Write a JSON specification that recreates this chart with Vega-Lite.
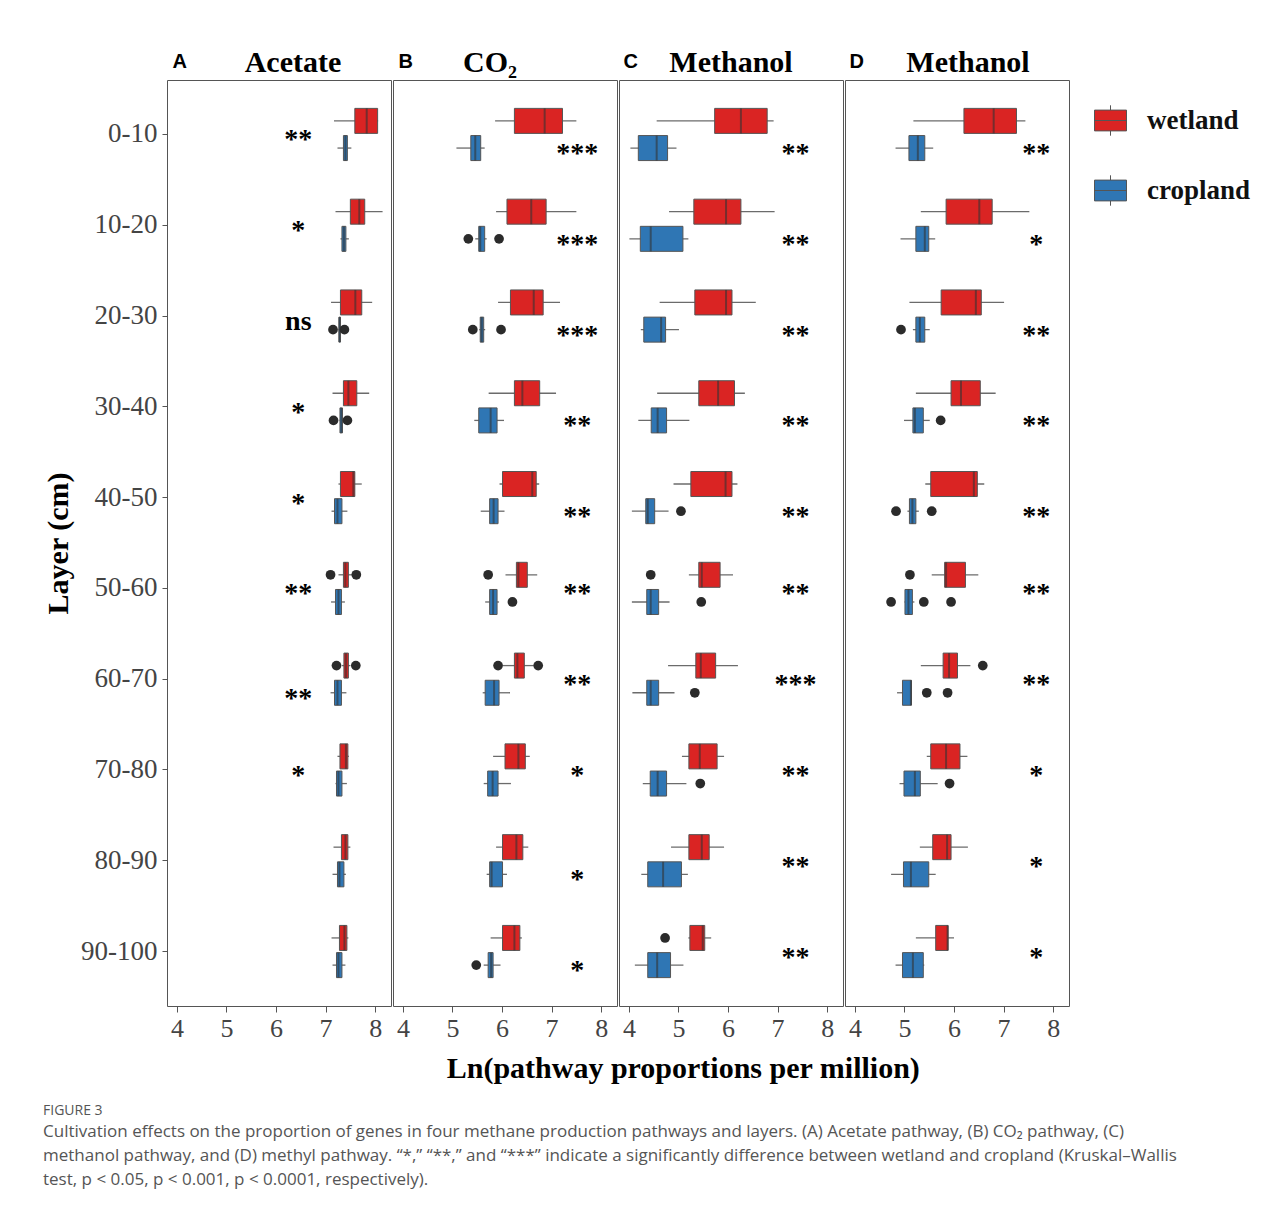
{
"$schema": "https://vega.github.io/schema/vega-lite/v6.json",
"padding": {"left": 43, "top": 47, "right": 10, "bottom": 10},
"datasets": {
"box": [
{"panel":"A","layer":"0-10","group":"wetland","lo":7.17,"q1":7.59,"med":7.83,"q3":8.05,"hi":8.06},
{"panel":"A","layer":"0-10","group":"cropland","lo":7.24,"q1":7.36,"med":7.40,"q3":7.44,"hi":7.52},
{"panel":"A","layer":"10-20","group":"wetland","lo":7.20,"q1":7.50,"med":7.68,"q3":7.79,"hi":8.15},
{"panel":"A","layer":"10-20","group":"cropland","lo":7.30,"q1":7.33,"med":7.37,"q3":7.41,"hi":7.47},
{"panel":"A","layer":"20-30","group":"wetland","lo":7.11,"q1":7.30,"med":7.60,"q3":7.73,"hi":7.94},
{"panel":"A","layer":"20-30","group":"cropland","lo":7.26,"q1":7.27,"med":7.28,"q3":7.30,"hi":7.31},
{"panel":"A","layer":"30-40","group":"wetland","lo":7.14,"q1":7.36,"med":7.46,"q3":7.63,"hi":7.88},
{"panel":"A","layer":"30-40","group":"cropland","lo":7.28,"q1":7.29,"med":7.32,"q3":7.34,"hi":7.35},
{"panel":"A","layer":"40-50","group":"wetland","lo":7.26,"q1":7.30,"med":7.56,"q3":7.59,"hi":7.73},
{"panel":"A","layer":"40-50","group":"cropland","lo":7.12,"q1":7.18,"med":7.24,"q3":7.33,"hi":7.44},
{"panel":"A","layer":"50-60","group":"wetland","lo":7.26,"q1":7.36,"med":7.40,"q3":7.46,"hi":7.56},
{"panel":"A","layer":"50-60","group":"cropland","lo":7.11,"q1":7.20,"med":7.26,"q3":7.32,"hi":7.39},
{"panel":"A","layer":"60-70","group":"wetland","lo":7.33,"q1":7.37,"med":7.41,"q3":7.46,"hi":7.50},
{"panel":"A","layer":"60-70","group":"cropland","lo":7.10,"q1":7.18,"med":7.24,"q3":7.32,"hi":7.42},
{"panel":"A","layer":"70-80","group":"wetland","lo":7.24,"q1":7.29,"med":7.41,"q3":7.45,"hi":7.47},
{"panel":"A","layer":"70-80","group":"cropland","lo":7.20,"q1":7.22,"med":7.26,"q3":7.33,"hi":7.43},
{"panel":"A","layer":"80-90","group":"wetland","lo":7.16,"q1":7.32,"med":7.40,"q3":7.45,"hi":7.50},
{"panel":"A","layer":"80-90","group":"cropland","lo":7.14,"q1":7.24,"med":7.28,"q3":7.37,"hi":7.41},
{"panel":"A","layer":"90-100","group":"wetland","lo":7.12,"q1":7.28,"med":7.38,"q3":7.43,"hi":7.46},
{"panel":"A","layer":"90-100","group":"cropland","lo":7.14,"q1":7.22,"med":7.26,"q3":7.33,"hi":7.40},
{"panel":"B","layer":"0-10","group":"wetland","lo":5.86,"q1":6.25,"med":6.86,"q3":7.22,"hi":7.50},
{"panel":"B","layer":"0-10","group":"cropland","lo":5.08,"q1":5.37,"med":5.46,"q3":5.57,"hi":5.65},
{"panel":"B","layer":"10-20","group":"wetland","lo":5.88,"q1":6.10,"med":6.59,"q3":6.89,"hi":7.50},
{"panel":"B","layer":"10-20","group":"cropland","lo":5.46,"q1":5.53,"med":5.56,"q3":5.65,"hi":5.69},
{"panel":"B","layer":"20-30","group":"wetland","lo":5.92,"q1":6.17,"med":6.64,"q3":6.83,"hi":7.17},
{"panel":"B","layer":"20-30","group":"cropland","lo":5.54,"q1":5.56,"med":5.59,"q3":5.63,"hi":5.66},
{"panel":"B","layer":"30-40","group":"wetland","lo":5.73,"q1":6.25,"med":6.41,"q3":6.76,"hi":7.09},
{"panel":"B","layer":"30-40","group":"cropland","lo":5.44,"q1":5.53,"med":5.77,"q3":5.90,"hi":6.04},
{"panel":"B","layer":"40-50","group":"wetland","lo":5.95,"q1":6.01,"med":6.61,"q3":6.69,"hi":6.75},
{"panel":"B","layer":"40-50","group":"cropland","lo":5.57,"q1":5.75,"med":5.83,"q3":5.92,"hi":6.05},
{"panel":"B","layer":"50-60","group":"wetland","lo":6.07,"q1":6.29,"med":6.33,"q3":6.51,"hi":6.71},
{"panel":"B","layer":"50-60","group":"cropland","lo":5.66,"q1":5.75,"med":5.82,"q3":5.90,"hi":5.94},
{"panel":"B","layer":"60-70","group":"wetland","lo":6.02,"q1":6.25,"med":6.31,"q3":6.45,"hi":6.64},
{"panel":"B","layer":"60-70","group":"cropland","lo":5.61,"q1":5.66,"med":5.84,"q3":5.94,"hi":6.16},
{"panel":"B","layer":"70-80","group":"wetland","lo":5.82,"q1":6.06,"med":6.33,"q3":6.47,"hi":6.56},
{"panel":"B","layer":"70-80","group":"cropland","lo":5.63,"q1":5.71,"med":5.81,"q3":5.92,"hi":6.18},
{"panel":"B","layer":"80-90","group":"wetland","lo":5.88,"q1":6.01,"med":6.29,"q3":6.42,"hi":6.53},
{"panel":"B","layer":"80-90","group":"cropland","lo":5.69,"q1":5.75,"med":5.79,"q3":6.01,"hi":6.10},
{"panel":"B","layer":"90-100","group":"wetland","lo":5.77,"q1":6.01,"med":6.25,"q3":6.36,"hi":6.40},
{"panel":"B","layer":"90-100","group":"cropland","lo":5.63,"q1":5.72,"med":5.78,"q3":5.82,"hi":5.97},
{"panel":"C","layer":"0-10","group":"wetland","lo":4.56,"q1":5.73,"med":6.26,"q3":6.79,"hi":6.92},
{"panel":"C","layer":"0-10","group":"cropland","lo":4.03,"q1":4.19,"med":4.56,"q3":4.78,"hi":4.96},
{"panel":"C","layer":"10-20","group":"wetland","lo":4.81,"q1":5.31,"med":5.96,"q3":6.26,"hi":6.94},
{"panel":"C","layer":"10-20","group":"cropland","lo":4.01,"q1":4.23,"med":4.44,"q3":5.09,"hi":5.20},
{"panel":"C","layer":"20-30","group":"wetland","lo":4.62,"q1":5.33,"med":5.96,"q3":6.08,"hi":6.56},
{"panel":"C","layer":"20-30","group":"cropland","lo":4.24,"q1":4.30,"med":4.65,"q3":4.74,"hi":5.01},
{"panel":"C","layer":"30-40","group":"wetland","lo":4.57,"q1":5.41,"med":5.80,"q3":6.13,"hi":6.34},
{"panel":"C","layer":"30-40","group":"cropland","lo":4.19,"q1":4.45,"med":4.58,"q3":4.76,"hi":5.22},
{"panel":"C","layer":"40-50","group":"wetland","lo":4.90,"q1":5.25,"med":5.95,"q3":6.08,"hi":6.19},
{"panel":"C","layer":"40-50","group":"cropland","lo":4.06,"q1":4.34,"med":4.38,"q3":4.52,"hi":4.80},
{"panel":"C","layer":"50-60","group":"wetland","lo":5.21,"q1":5.41,"med":5.47,"q3":5.84,"hi":6.10},
{"panel":"C","layer":"50-60","group":"cropland","lo":4.06,"q1":4.36,"med":4.44,"q3":4.60,"hi":4.82},
{"panel":"C","layer":"60-70","group":"wetland","lo":4.79,"q1":5.35,"med":5.45,"q3":5.75,"hi":6.20},
{"panel":"C","layer":"60-70","group":"cropland","lo":4.07,"q1":4.36,"med":4.44,"q3":4.60,"hi":4.92},
{"panel":"C","layer":"70-80","group":"wetland","lo":5.07,"q1":5.21,"med":5.43,"q3":5.78,"hi":5.92},
{"panel":"C","layer":"70-80","group":"cropland","lo":4.28,"q1":4.43,"med":4.58,"q3":4.76,"hi":5.16},
{"panel":"C","layer":"80-90","group":"wetland","lo":4.85,"q1":5.21,"med":5.47,"q3":5.62,"hi":5.92},
{"panel":"C","layer":"80-90","group":"cropland","lo":4.25,"q1":4.38,"med":4.69,"q3":5.06,"hi":5.19},
{"panel":"C","layer":"90-100","group":"wetland","lo":5.20,"q1":5.23,"med":5.49,"q3":5.53,"hi":5.66},
{"panel":"C","layer":"90-100","group":"cropland","lo":4.12,"q1":4.38,"med":4.57,"q3":4.84,"hi":5.10},
{"panel":"D","layer":"0-10","group":"wetland","lo":5.18,"q1":6.20,"med":6.80,"q3":7.26,"hi":7.44},
{"panel":"D","layer":"0-10","group":"cropland","lo":4.82,"q1":5.09,"med":5.27,"q3":5.41,"hi":5.58},
{"panel":"D","layer":"10-20","group":"wetland","lo":5.33,"q1":5.84,"med":6.51,"q3":6.77,"hi":7.52},
{"panel":"D","layer":"10-20","group":"cropland","lo":4.92,"q1":5.23,"med":5.41,"q3":5.49,"hi":5.62},
{"panel":"D","layer":"20-30","group":"wetland","lo":5.10,"q1":5.74,"med":6.44,"q3":6.55,"hi":7.01},
{"panel":"D","layer":"20-30","group":"cropland","lo":5.17,"q1":5.23,"med":5.31,"q3":5.41,"hi":5.51},
{"panel":"D","layer":"30-40","group":"wetland","lo":5.23,"q1":5.94,"med":6.14,"q3":6.53,"hi":6.84},
{"panel":"D","layer":"30-40","group":"cropland","lo":4.99,"q1":5.17,"med":5.21,"q3":5.38,"hi":5.51},
{"panel":"D","layer":"40-50","group":"wetland","lo":5.42,"q1":5.53,"med":6.40,"q3":6.47,"hi":6.61},
{"panel":"D","layer":"40-50","group":"cropland","lo":5.06,"q1":5.10,"med":5.16,"q3":5.23,"hi":5.29},
{"panel":"D","layer":"50-60","group":"wetland","lo":5.55,"q1":5.81,"med":5.84,"q3":6.23,"hi":6.49},
{"panel":"D","layer":"50-60","group":"cropland","lo":5.00,"q1":5.01,"med":5.08,"q3":5.16,"hi":5.20},
{"panel":"D","layer":"60-70","group":"wetland","lo":5.33,"q1":5.78,"med":5.90,"q3":6.07,"hi":6.33},
{"panel":"D","layer":"60-70","group":"cropland","lo":4.85,"q1":4.96,"med":5.13,"q3":5.14,"hi":5.14},
{"panel":"D","layer":"70-80","group":"wetland","lo":5.45,"q1":5.53,"med":5.84,"q3":6.12,"hi":6.27},
{"panel":"D","layer":"70-80","group":"cropland","lo":4.90,"q1":4.99,"med":5.21,"q3":5.32,"hi":5.67},
{"panel":"D","layer":"80-90","group":"wetland","lo":5.31,"q1":5.57,"med":5.86,"q3":5.94,"hi":6.28},
{"panel":"D","layer":"80-90","group":"cropland","lo":4.73,"q1":4.98,"med":5.13,"q3":5.49,"hi":5.63},
{"panel":"D","layer":"90-100","group":"wetland","lo":5.23,"q1":5.63,"med":5.87,"q3":5.88,"hi":6.00},
{"panel":"D","layer":"90-100","group":"cropland","lo":4.82,"q1":4.96,"med":5.17,"q3":5.38,"hi":5.40}
],
"out": [
{"panel":"A","layer":"20-30","group":"cropland","v":7.15},{"panel":"A","layer":"20-30","group":"cropland","v":7.38},
{"panel":"A","layer":"30-40","group":"cropland","v":7.16},{"panel":"A","layer":"30-40","group":"cropland","v":7.44},
{"panel":"A","layer":"50-60","group":"wetland","v":7.10},{"panel":"A","layer":"50-60","group":"wetland","v":7.62},
{"panel":"A","layer":"60-70","group":"wetland","v":7.22},{"panel":"A","layer":"60-70","group":"wetland","v":7.61},
{"panel":"B","layer":"10-20","group":"cropland","v":5.32},{"panel":"B","layer":"10-20","group":"cropland","v":5.94},
{"panel":"B","layer":"20-30","group":"cropland","v":5.41},{"panel":"B","layer":"20-30","group":"cropland","v":5.98},
{"panel":"B","layer":"50-60","group":"wetland","v":5.72},{"panel":"B","layer":"50-60","group":"cropland","v":6.21},
{"panel":"B","layer":"60-70","group":"wetland","v":5.92},{"panel":"B","layer":"60-70","group":"wetland","v":6.73},
{"panel":"B","layer":"90-100","group":"cropland","v":5.48},
{"panel":"C","layer":"40-50","group":"cropland","v":5.05},
{"panel":"C","layer":"50-60","group":"wetland","v":4.44},{"panel":"C","layer":"50-60","group":"cropland","v":5.46},
{"panel":"C","layer":"60-70","group":"cropland","v":5.33},
{"panel":"C","layer":"70-80","group":"cropland","v":5.44},
{"panel":"C","layer":"90-100","group":"wetland","v":4.73},
{"panel":"D","layer":"20-30","group":"cropland","v":4.93},
{"panel":"D","layer":"30-40","group":"cropland","v":5.73},
{"panel":"D","layer":"40-50","group":"cropland","v":4.83},{"panel":"D","layer":"40-50","group":"cropland","v":5.55},
{"panel":"D","layer":"50-60","group":"wetland","v":5.11},
{"panel":"D","layer":"50-60","group":"cropland","v":4.73},{"panel":"D","layer":"50-60","group":"cropland","v":5.39},{"panel":"D","layer":"50-60","group":"cropland","v":5.94},
{"panel":"D","layer":"60-70","group":"wetland","v":6.58},
{"panel":"D","layer":"60-70","group":"cropland","v":5.45},{"panel":"D","layer":"60-70","group":"cropland","v":5.87},
{"panel":"D","layer":"70-80","group":"cropland","v":5.91}
],
"sig": [
{"panel":"A","layer":"0-10","group":"middle","x":6.45,"label":"**"},
{"panel":"A","layer":"10-20","group":"middle","x":6.45,"label":"*"},
{"panel":"A","layer":"20-30","group":"middle","x":6.45,"label":"ns"},
{"panel":"A","layer":"30-40","group":"middle","x":6.45,"label":"*"},
{"panel":"A","layer":"40-50","group":"middle","x":6.45,"label":"*"},
{"panel":"A","layer":"50-60","group":"middle","x":6.45,"label":"**"},
{"panel":"A","layer":"60-70","group":"cropland","x":6.45,"label":"**"},
{"panel":"A","layer":"70-80","group":"middle","x":6.45,"label":"*"},
{"panel":"B","layer":"0-10","group":"cropland","x":7.52,"label":"***"},
{"panel":"B","layer":"10-20","group":"cropland","x":7.52,"label":"***"},
{"panel":"B","layer":"20-30","group":"cropland","x":7.52,"label":"***"},
{"panel":"B","layer":"30-40","group":"cropland","x":7.52,"label":"**"},
{"panel":"B","layer":"40-50","group":"cropland","x":7.52,"label":"**"},
{"panel":"B","layer":"50-60","group":"middle","x":7.52,"label":"**"},
{"panel":"B","layer":"60-70","group":"middle","x":7.52,"label":"**"},
{"panel":"B","layer":"70-80","group":"middle","x":7.52,"label":"*"},
{"panel":"B","layer":"80-90","group":"cropland","x":7.52,"label":"*"},
{"panel":"B","layer":"90-100","group":"cropland","x":7.52,"label":"*"},
{"panel":"C","layer":"0-10","group":"cropland","x":7.36,"label":"**"},
{"panel":"C","layer":"10-20","group":"cropland","x":7.36,"label":"**"},
{"panel":"C","layer":"20-30","group":"cropland","x":7.36,"label":"**"},
{"panel":"C","layer":"30-40","group":"cropland","x":7.36,"label":"**"},
{"panel":"C","layer":"40-50","group":"cropland","x":7.36,"label":"**"},
{"panel":"C","layer":"50-60","group":"middle","x":7.36,"label":"**"},
{"panel":"C","layer":"60-70","group":"middle","x":7.36,"label":"***"},
{"panel":"C","layer":"70-80","group":"middle","x":7.36,"label":"**"},
{"panel":"C","layer":"80-90","group":"middle","x":7.36,"label":"**"},
{"panel":"C","layer":"90-100","group":"middle","x":7.36,"label":"**"},
{"panel":"D","layer":"0-10","group":"cropland","x":7.66,"label":"**"},
{"panel":"D","layer":"10-20","group":"cropland","x":7.66,"label":"*"},
{"panel":"D","layer":"20-30","group":"cropland","x":7.66,"label":"**"},
{"panel":"D","layer":"30-40","group":"cropland","x":7.66,"label":"**"},
{"panel":"D","layer":"40-50","group":"cropland","x":7.66,"label":"**"},
{"panel":"D","layer":"50-60","group":"middle","x":7.66,"label":"**"},
{"panel":"D","layer":"60-70","group":"middle","x":7.66,"label":"**"},
{"panel":"D","layer":"70-80","group":"middle","x":7.66,"label":"*"},
{"panel":"D","layer":"80-90","group":"middle","x":7.66,"label":"*"},
{"panel":"D","layer":"90-100","group":"middle","x":7.66,"label":"*"}
]
},
"title": {
  "text": "FIGURE 3",
  "subtitle": [
    "Cultivation effects on the proportion of genes in four methane production pathways and layers. (A) Acetate pathway, (B) CO₂ pathway, (C)",
    "methanol pathway, and (D) methyl pathway. “*,” “**,” and “***” indicate a significantly difference between wetland and cropland (Kruskal–Wallis",
    "test, p < 0.05, p < 0.001, p < 0.0001, respectively)."
  ],
  "orient": "bottom", "anchor": "start", "offset": 20,
  "font": "Open Sans", "fontSize": 14, "fontWeight": "normal", "color": "#555555",
  "subtitleFont": "Open Sans", "subtitleFontSize": 17, "subtitleColor": "#555555",
  "subtitleLineHeight": 24, "subtitlePadding": 6
},
"vconcat": [
{
"title": {"text": "Ln(pathway proportions per million)", "orient": "bottom", "anchor": "middle", "font": "Liberation Serif", "fontSize": 30, "fontWeight": "bold", "color": "#000000", "offset": 12, "dx": 127},
"spacing": 0,
"hconcat": [
{
"width": 224, "height": 926,
"title": {"text": "Acetate", "font": "Liberation Serif", "fontSize": 30, "fontWeight": "bold", "color": "#000000", "anchor": "middle", "dx": 14, "offset": -27},
"resolve": {"axis": {"x": "independent"}},
"layer": [
{"data": {"name": "box"}, "transform": [{"filter": "datum.panel == 'A'"}],
 "mark": {"type": "rule", "color": "#6b6b6b", "strokeWidth": 1.3},
 "encoding": {
  "y": {"field": "layer", "type": "nominal", "sort": ["0-10","10-20","20-30","30-40","40-50","50-60","60-70","70-80","80-90","90-100"], "scale": {"domain": ["0-10","10-20","20-30","30-40","40-50","50-60","60-70","70-80","80-90","90-100"], "paddingInner": 0, "paddingOuter": 0.1},
        "axis": {"title": "Layer (cm)", "titleFont": "Liberation Serif", "titleFontSize": 30, "titleFontWeight": "bold", "titleColor": "#000000", "labelFont": "Liberation Serif", "labelFontSize": 27, "labelColor": "#444444", "tickColor": "#555555", "tickSize": 5, "domain": false, "labelPadding": 5, "titlePadding": 7}},
  "yOffset": {"field": "group", "type": "nominal", "scale": {"domain": ["wetland","cropland"], "paddingInner": 0.08, "paddingOuter": 0.71}},
  "x": {"field": "lo", "type": "quantitative", "scale": {"domain": [3.8, 8.32], "nice": false, "zero": false},
        "axis": {"orient": "top", "title": "A", "titleFont": "Liberation Sans", "titleFontSize": 20, "titleFontWeight": "bold", "titleColor": "#000000", "titleAnchor": "start", "titleAlign": "left", "titleX": 5, "labels": false, "ticks": false, "domain": false, "grid": false, "titlePadding": 9}},
  "x2": {"field": "hi"}
 }},
{"data": {"name": "box"}, "transform": [{"filter": "datum.panel == 'A'"}],
 "mark": {"type": "bar", "stroke": "#555555", "strokeWidth": 1},
 "encoding": {
  "y": {"field": "layer", "type": "nominal", "sort": ["0-10","10-20","20-30","30-40","40-50","50-60","60-70","70-80","80-90","90-100"]},
  "yOffset": {"field": "group", "type": "nominal"},
  "x": {"field": "q1", "type": "quantitative", "scale": {"domain": [3.8, 8.32], "nice": false, "zero": false},
        "axis": {"orient": "bottom", "title": null, "values": [4,5,6,7,8], "format": "d", "labelFont": "Liberation Serif", "labelFontSize": 26, "labelColor": "#444444", "tickSize": 6, "tickColor": "#555555", "domain": false, "grid": false, "labelPadding": 3, "labelFlush": false}},
  "x2": {"field": "q3"},
  "color": {"field": "group", "type": "nominal", "scale": {"domain": ["wetland","cropland"], "range": ["#DA2423","#2F76B4"]}}
 }},
{"data": {"name": "box"}, "transform": [{"filter": "datum.panel == 'A'"}],
 "mark": {"type": "tick", "size": 25, "thickness": 2, "color": "#333333", "opacity": 0.6},
 "encoding": {
  "y": {"field": "layer", "type": "nominal", "sort": ["0-10","10-20","20-30","30-40","40-50","50-60","60-70","70-80","80-90","90-100"]},
  "yOffset": {"field": "group", "type": "nominal"},
  "x": {"field": "med", "type": "quantitative", "scale": {"domain": [3.8, 8.32], "nice": false, "zero": false}, "axis": null}
 }},
{"data": {"name": "out"}, "transform": [{"filter": "datum.panel == 'A'"}],
 "mark": {"type": "point", "filled": true, "color": "#2b2b2b", "size": 95, "opacity": 1},
 "encoding": {
  "y": {"field": "layer", "type": "nominal", "sort": ["0-10","10-20","20-30","30-40","40-50","50-60","60-70","70-80","80-90","90-100"]},
  "yOffset": {"field": "group", "type": "nominal"},
  "x": {"field": "v", "type": "quantitative", "scale": {"domain": [3.8, 8.32], "nice": false, "zero": false}, "axis": null}
 }},
{"data": {"name": "sig"}, "transform": [{"filter": "datum.panel == 'A' && datum.group == 'middle'"}],
 "mark": {"type": "text", "font": "Liberation Serif", "fontWeight": "bold", "fontSize": 28, "baseline": "middle", "align": "center", "dy": 6, "color": "#000000"},
 "encoding": {
  "y": {"field": "layer", "type": "nominal", "sort": ["0-10","10-20","20-30","30-40","40-50","50-60","60-70","70-80","80-90","90-100"]},
  "x": {"field": "x", "type": "quantitative", "scale": {"domain": [3.8, 8.32], "nice": false, "zero": false}, "axis": null},
  "text": {"field": "label"}
 }},
{"data": {"name": "sig"}, "transform": [{"filter": "datum.panel == 'A' && datum.group == 'cropland'"}],
 "mark": {"type": "text", "font": "Liberation Serif", "fontWeight": "bold", "fontSize": 28, "baseline": "middle", "align": "center", "dy": 6, "color": "#000000"},
 "encoding": {
  "y": {"field": "layer", "type": "nominal", "sort": ["0-10","10-20","20-30","30-40","40-50","50-60","60-70","70-80","80-90","90-100"]},
  "yOffset": {"field": "group", "type": "nominal"},
  "x": {"field": "x", "type": "quantitative", "scale": {"domain": [3.8, 8.32], "nice": false, "zero": false}, "axis": null},
  "text": {"field": "label"}
 }}
]
},
{
"width": 224, "height": 926,
"title": {"text": "CO₂", "font": "Liberation Serif", "fontSize": 30, "fontWeight": "bold", "color": "#000000", "anchor": "middle", "dx": -15, "offset": -27},
"resolve": {"axis": {"x": "independent"}},
"layer": [
{"data": {"name": "box"}, "transform": [{"filter": "datum.panel == 'B'"}],
 "mark": {"type": "rule", "color": "#6b6b6b", "strokeWidth": 1.3},
 "encoding": {
  "y": {"field": "layer", "type": "nominal", "sort": ["0-10","10-20","20-30","30-40","40-50","50-60","60-70","70-80","80-90","90-100"], "scale": {"domain": ["0-10","10-20","20-30","30-40","40-50","50-60","60-70","70-80","80-90","90-100"], "paddingInner": 0, "paddingOuter": 0.1}, "axis": null},
  "yOffset": {"field": "group", "type": "nominal", "scale": {"domain": ["wetland","cropland"], "paddingInner": 0.08, "paddingOuter": 0.71}},
  "x": {"field": "lo", "type": "quantitative", "scale": {"domain": [3.8, 8.32], "nice": false, "zero": false},
        "axis": {"orient": "top", "title": "B", "titleFont": "Liberation Sans", "titleFontSize": 20, "titleFontWeight": "bold", "titleColor": "#000000", "titleAnchor": "start", "titleAlign": "left", "titleX": 5, "labels": false, "ticks": false, "domain": false, "grid": false, "titlePadding": 9}},
  "x2": {"field": "hi"}
 }},
{"data": {"name": "box"}, "transform": [{"filter": "datum.panel == 'B'"}],
 "mark": {"type": "bar", "stroke": "#555555", "strokeWidth": 1},
 "encoding": {
  "y": {"field": "layer", "type": "nominal", "sort": ["0-10","10-20","20-30","30-40","40-50","50-60","60-70","70-80","80-90","90-100"], "axis": null},
  "yOffset": {"field": "group", "type": "nominal"},
  "x": {"field": "q1", "type": "quantitative", "scale": {"domain": [3.8, 8.32], "nice": false, "zero": false},
        "axis": {"orient": "bottom", "title": null, "values": [4,5,6,7,8], "format": "d", "labelFont": "Liberation Serif", "labelFontSize": 26, "labelColor": "#444444", "tickSize": 6, "tickColor": "#555555", "domain": false, "grid": false, "labelPadding": 3, "labelFlush": false}},
  "x2": {"field": "q3"},
  "color": {"field": "group", "type": "nominal", "scale": {"domain": ["wetland","cropland"], "range": ["#DA2423","#2F76B4"]}}
 }},
{"data": {"name": "box"}, "transform": [{"filter": "datum.panel == 'B'"}],
 "mark": {"type": "tick", "size": 25, "thickness": 2, "color": "#333333", "opacity": 0.6},
 "encoding": {
  "y": {"field": "layer", "type": "nominal", "sort": ["0-10","10-20","20-30","30-40","40-50","50-60","60-70","70-80","80-90","90-100"], "axis": null},
  "yOffset": {"field": "group", "type": "nominal"},
  "x": {"field": "med", "type": "quantitative", "scale": {"domain": [3.8, 8.32], "nice": false, "zero": false}, "axis": null}
 }},
{"data": {"name": "out"}, "transform": [{"filter": "datum.panel == 'B'"}],
 "mark": {"type": "point", "filled": true, "color": "#2b2b2b", "size": 95, "opacity": 1},
 "encoding": {
  "y": {"field": "layer", "type": "nominal", "sort": ["0-10","10-20","20-30","30-40","40-50","50-60","60-70","70-80","80-90","90-100"], "axis": null},
  "yOffset": {"field": "group", "type": "nominal"},
  "x": {"field": "v", "type": "quantitative", "scale": {"domain": [3.8, 8.32], "nice": false, "zero": false}, "axis": null}
 }},
{"data": {"name": "sig"}, "transform": [{"filter": "datum.panel == 'B' && datum.group == 'middle'"}],
 "mark": {"type": "text", "font": "Liberation Serif", "fontWeight": "bold", "fontSize": 28, "baseline": "middle", "align": "center", "dy": 6, "color": "#000000"},
 "encoding": {
  "y": {"field": "layer", "type": "nominal", "sort": ["0-10","10-20","20-30","30-40","40-50","50-60","60-70","70-80","80-90","90-100"], "axis": null},
  "x": {"field": "x", "type": "quantitative", "scale": {"domain": [3.8, 8.32], "nice": false, "zero": false}, "axis": null},
  "text": {"field": "label"}
 }},
{"data": {"name": "sig"}, "transform": [{"filter": "datum.panel == 'B' && datum.group == 'cropland'"}],
 "mark": {"type": "text", "font": "Liberation Serif", "fontWeight": "bold", "fontSize": 28, "baseline": "middle", "align": "center", "dy": 6, "color": "#000000"},
 "encoding": {
  "y": {"field": "layer", "type": "nominal", "sort": ["0-10","10-20","20-30","30-40","40-50","50-60","60-70","70-80","80-90","90-100"], "axis": null},
  "yOffset": {"field": "group", "type": "nominal"},
  "x": {"field": "x", "type": "quantitative", "scale": {"domain": [3.8, 8.32], "nice": false, "zero": false}, "axis": null},
  "text": {"field": "label"}
 }}
]
},
{
"width": 224, "height": 926,
"title": {"text": "Methanol", "font": "Liberation Serif", "fontSize": 30, "fontWeight": "bold", "color": "#000000", "anchor": "middle", "dx": 0, "offset": -27},
"resolve": {"axis": {"x": "independent"}},
"layer": [
{"data": {"name": "box"}, "transform": [{"filter": "datum.panel == 'C'"}],
 "mark": {"type": "rule", "color": "#6b6b6b", "strokeWidth": 1.3},
 "encoding": {
  "y": {"field": "layer", "type": "nominal", "sort": ["0-10","10-20","20-30","30-40","40-50","50-60","60-70","70-80","80-90","90-100"], "scale": {"domain": ["0-10","10-20","20-30","30-40","40-50","50-60","60-70","70-80","80-90","90-100"], "paddingInner": 0, "paddingOuter": 0.1}, "axis": null},
  "yOffset": {"field": "group", "type": "nominal", "scale": {"domain": ["wetland","cropland"], "paddingInner": 0.08, "paddingOuter": 0.71}},
  "x": {"field": "lo", "type": "quantitative", "scale": {"domain": [3.8, 8.32], "nice": false, "zero": false},
        "axis": {"orient": "top", "title": "C", "titleFont": "Liberation Sans", "titleFontSize": 20, "titleFontWeight": "bold", "titleColor": "#000000", "titleAnchor": "start", "titleAlign": "left", "titleX": 4, "labels": false, "ticks": false, "domain": false, "grid": false, "titlePadding": 9}},
  "x2": {"field": "hi"}
 }},
{"data": {"name": "box"}, "transform": [{"filter": "datum.panel == 'C'"}],
 "mark": {"type": "bar", "stroke": "#555555", "strokeWidth": 1},
 "encoding": {
  "y": {"field": "layer", "type": "nominal", "sort": ["0-10","10-20","20-30","30-40","40-50","50-60","60-70","70-80","80-90","90-100"], "axis": null},
  "yOffset": {"field": "group", "type": "nominal"},
  "x": {"field": "q1", "type": "quantitative", "scale": {"domain": [3.8, 8.32], "nice": false, "zero": false},
        "axis": {"orient": "bottom", "title": null, "values": [4,5,6,7,8], "format": "d", "labelFont": "Liberation Serif", "labelFontSize": 26, "labelColor": "#444444", "tickSize": 6, "tickColor": "#555555", "domain": false, "grid": false, "labelPadding": 3, "labelFlush": false}},
  "x2": {"field": "q3"},
  "color": {"field": "group", "type": "nominal", "scale": {"domain": ["wetland","cropland"], "range": ["#DA2423","#2F76B4"]}}
 }},
{"data": {"name": "box"}, "transform": [{"filter": "datum.panel == 'C'"}],
 "mark": {"type": "tick", "size": 25, "thickness": 2, "color": "#333333", "opacity": 0.6},
 "encoding": {
  "y": {"field": "layer", "type": "nominal", "sort": ["0-10","10-20","20-30","30-40","40-50","50-60","60-70","70-80","80-90","90-100"], "axis": null},
  "yOffset": {"field": "group", "type": "nominal"},
  "x": {"field": "med", "type": "quantitative", "scale": {"domain": [3.8, 8.32], "nice": false, "zero": false}, "axis": null}
 }},
{"data": {"name": "out"}, "transform": [{"filter": "datum.panel == 'C'"}],
 "mark": {"type": "point", "filled": true, "color": "#2b2b2b", "size": 95, "opacity": 1},
 "encoding": {
  "y": {"field": "layer", "type": "nominal", "sort": ["0-10","10-20","20-30","30-40","40-50","50-60","60-70","70-80","80-90","90-100"], "axis": null},
  "yOffset": {"field": "group", "type": "nominal"},
  "x": {"field": "v", "type": "quantitative", "scale": {"domain": [3.8, 8.32], "nice": false, "zero": false}, "axis": null}
 }},
{"data": {"name": "sig"}, "transform": [{"filter": "datum.panel == 'C' && datum.group == 'middle'"}],
 "mark": {"type": "text", "font": "Liberation Serif", "fontWeight": "bold", "fontSize": 28, "baseline": "middle", "align": "center", "dy": 6, "color": "#000000"},
 "encoding": {
  "y": {"field": "layer", "type": "nominal", "sort": ["0-10","10-20","20-30","30-40","40-50","50-60","60-70","70-80","80-90","90-100"], "axis": null},
  "x": {"field": "x", "type": "quantitative", "scale": {"domain": [3.8, 8.32], "nice": false, "zero": false}, "axis": null},
  "text": {"field": "label"}
 }},
{"data": {"name": "sig"}, "transform": [{"filter": "datum.panel == 'C' && datum.group == 'cropland'"}],
 "mark": {"type": "text", "font": "Liberation Serif", "fontWeight": "bold", "fontSize": 28, "baseline": "middle", "align": "center", "dy": 6, "color": "#000000"},
 "encoding": {
  "y": {"field": "layer", "type": "nominal", "sort": ["0-10","10-20","20-30","30-40","40-50","50-60","60-70","70-80","80-90","90-100"], "axis": null},
  "yOffset": {"field": "group", "type": "nominal"},
  "x": {"field": "x", "type": "quantitative", "scale": {"domain": [3.8, 8.32], "nice": false, "zero": false}, "axis": null},
  "text": {"field": "label"}
 }}
]
},
{
"width": 224, "height": 926,
"title": {"text": "Methanol", "font": "Liberation Serif", "fontSize": 30, "fontWeight": "bold", "color": "#000000", "anchor": "middle", "dx": 11, "offset": -27},
"resolve": {"axis": {"x": "independent"}},
"layer": [
{"data": {"name": "box"}, "transform": [{"filter": "datum.panel == 'D'"}],
 "mark": {"type": "rule", "color": "#6b6b6b", "strokeWidth": 1.3},
 "encoding": {
  "y": {"field": "layer", "type": "nominal", "sort": ["0-10","10-20","20-30","30-40","40-50","50-60","60-70","70-80","80-90","90-100"], "scale": {"domain": ["0-10","10-20","20-30","30-40","40-50","50-60","60-70","70-80","80-90","90-100"], "paddingInner": 0, "paddingOuter": 0.1}, "axis": null},
  "yOffset": {"field": "group", "type": "nominal", "scale": {"domain": ["wetland","cropland"], "paddingInner": 0.08, "paddingOuter": 0.71}},
  "x": {"field": "lo", "type": "quantitative", "scale": {"domain": [3.8, 8.32], "nice": false, "zero": false},
        "axis": {"orient": "top", "title": "D", "titleFont": "Liberation Sans", "titleFontSize": 20, "titleFontWeight": "bold", "titleColor": "#000000", "titleAnchor": "start", "titleAlign": "left", "titleX": 4, "labels": false, "ticks": false, "domain": false, "grid": false, "titlePadding": 9}},
  "x2": {"field": "hi"}
 }},
{"data": {"name": "box"}, "transform": [{"filter": "datum.panel == 'D'"}],
 "mark": {"type": "bar", "stroke": "#555555", "strokeWidth": 1},
 "encoding": {
  "y": {"field": "layer", "type": "nominal", "sort": ["0-10","10-20","20-30","30-40","40-50","50-60","60-70","70-80","80-90","90-100"], "axis": null},
  "yOffset": {"field": "group", "type": "nominal"},
  "x": {"field": "q1", "type": "quantitative", "scale": {"domain": [3.8, 8.32], "nice": false, "zero": false},
        "axis": {"orient": "bottom", "title": null, "values": [4,5,6,7,8], "format": "d", "labelFont": "Liberation Serif", "labelFontSize": 26, "labelColor": "#444444", "tickSize": 6, "tickColor": "#555555", "domain": false, "grid": false, "labelPadding": 3, "labelFlush": false}},
  "x2": {"field": "q3"},
  "color": {"field": "group", "type": "nominal", "scale": {"domain": ["wetland","cropland"], "range": ["#DA2423","#2F76B4"]}}
 }},
{"data": {"name": "box"}, "transform": [{"filter": "datum.panel == 'D'"}],
 "mark": {"type": "tick", "size": 25, "thickness": 2, "color": "#333333", "opacity": 0.6},
 "encoding": {
  "y": {"field": "layer", "type": "nominal", "sort": ["0-10","10-20","20-30","30-40","40-50","50-60","60-70","70-80","80-90","90-100"], "axis": null},
  "yOffset": {"field": "group", "type": "nominal"},
  "x": {"field": "med", "type": "quantitative", "scale": {"domain": [3.8, 8.32], "nice": false, "zero": false}, "axis": null}
 }},
{"data": {"name": "out"}, "transform": [{"filter": "datum.panel == 'D'"}],
 "mark": {"type": "point", "filled": true, "color": "#2b2b2b", "size": 95, "opacity": 1},
 "encoding": {
  "y": {"field": "layer", "type": "nominal", "sort": ["0-10","10-20","20-30","30-40","40-50","50-60","60-70","70-80","80-90","90-100"], "axis": null},
  "yOffset": {"field": "group", "type": "nominal"},
  "x": {"field": "v", "type": "quantitative", "scale": {"domain": [3.8, 8.32], "nice": false, "zero": false}, "axis": null}
 }},
{"data": {"name": "sig"}, "transform": [{"filter": "datum.panel == 'D' && datum.group == 'middle'"}],
 "mark": {"type": "text", "font": "Liberation Serif", "fontWeight": "bold", "fontSize": 28, "baseline": "middle", "align": "center", "dy": 6, "color": "#000000"},
 "encoding": {
  "y": {"field": "layer", "type": "nominal", "sort": ["0-10","10-20","20-30","30-40","40-50","50-60","60-70","70-80","80-90","90-100"], "axis": null},
  "x": {"field": "x", "type": "quantitative", "scale": {"domain": [3.8, 8.32], "nice": false, "zero": false}, "axis": null},
  "text": {"field": "label"}
 }},
{"data": {"name": "sig"}, "transform": [{"filter": "datum.panel == 'D' && datum.group == 'cropland'"}],
 "mark": {"type": "text", "font": "Liberation Serif", "fontWeight": "bold", "fontSize": 28, "baseline": "middle", "align": "center", "dy": 6, "color": "#000000"},
 "encoding": {
  "y": {"field": "layer", "type": "nominal", "sort": ["0-10","10-20","20-30","30-40","40-50","50-60","60-70","70-80","80-90","90-100"], "axis": null},
  "yOffset": {"field": "group", "type": "nominal"},
  "x": {"field": "x", "type": "quantitative", "scale": {"domain": [3.8, 8.32], "nice": false, "zero": false}, "axis": null},
  "text": {"field": "label"}
 }}
]
}
]
}
],
"config": {
  "view": {"stroke": "#555555", "strokeWidth": 1},
  "axis": {"grid": false},
  "legend": {
    "title": null, "orient": "right", "offset": 0, "padding": 24,
    "symbolType": "M-1,-0.65H1V0.65H-1Z M-1,0H1 M0,-0.65V-0.95 M0,0.65V0.95",
    "symbolSize": 1024, "symbolStrokeColor": "#555555", "symbolStrokeWidth": 1,
    "labelFont": "Liberation Serif", "labelFontSize": 27, "labelFontWeight": "bold", "labelColor": "#111111",
    "labelOffset": 20, "rowPadding": 35
  }
}
}
